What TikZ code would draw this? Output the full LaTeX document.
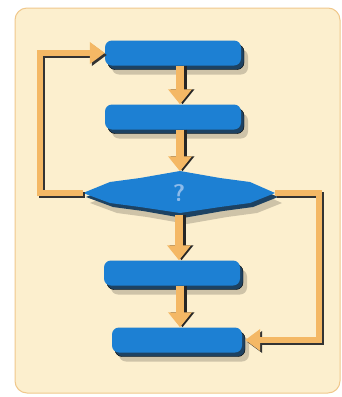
\documentclass[tikz,border=0pt]{standalone}
\usetikzlibrary{arrows.meta,shadows}
\definecolor{cream}{HTML}{FCEFCE}
\definecolor{frameor}{HTML}{F0C88C}
\definecolor{boxblue}{HTML}{1D80D3}
\definecolor{boxdark}{HTML}{1D4262}
\definecolor{arrowor}{HTML}{F4B865}
\definecolor{qblue}{HTML}{8DBBEA}
\tikzset{
  procbox/.style={rectangle, rounded corners=7pt, minimum height=25pt, inner sep=0pt,
    fill=boxblue, draw=none,
    drop shadow={shadow xshift=7pt, shadow yshift=-9pt, fill=black, opacity=0.18},
    copy shadow={shadow xshift=3pt, shadow yshift=-4pt, fill=boxdark}},
  flowarrow/.style={draw=arrowor, line width=8pt,
    -{Triangle[width=23pt,length=15pt]}},
  flowshade/.style={draw=black!85, line width=8pt,
    -{Triangle[width=23pt,length=15pt]}},
  looparrow/.style={draw=arrowor, line width=6.5pt,
    -{Triangle[width=21pt,length=15pt]}},
  loopshade/.style={draw=black!80, line width=6.5pt,
    -{Triangle[width=21pt,length=15pt]}},
  decnode/.style={minimum width=192pt, minimum height=43pt, inner sep=0pt,
    text=qblue, font=\sffamily\bfseries\fontsize{24}{24}\selectfont}
}
\begin{document}
\begin{tikzpicture}[x=1pt,y=-1pt]
\useasboundingbox (0,0) rectangle (342,397);
\fill[white] (0,0) rectangle (342,397);
\draw[fill=cream, draw=frameor, line width=1pt, rounded corners=12pt] (15,8) rectangle (340,393);

% process boxes
\node[procbox, minimum width=136pt] (b1) at (173,53) {};
\node[procbox, minimum width=136pt] (b2) at (173,117) {};
\node[procbox, minimum width=136pt] (b3) at (172,273) {};
\node[procbox, minimum width=130pt] (b4) at (177,340) {};

% decision shape
\fill[black, opacity=0.18] (90,203) -- (117,192) -- (147,188) -- (187,181) -- (227,188) -- (257,192) -- (282,203)
  -- (257,213) -- (227,217) -- (187,224) -- (147,217) -- (117,213) -- cycle;
\fill[boxdark] (86,197) -- (113,186) -- (143,182) -- (183,175) -- (223,182) -- (253,186) -- (278,197)
  -- (253,207) -- (223,211) -- (183,218) -- (143,211) -- (113,207) -- cycle;
\fill[boxblue] (83,193) -- (110,182) -- (140,178) -- (180,171) -- (220,178) -- (250,182) -- (275,193)
  -- (250,203) -- (220,207) -- (180,213) -- (140,207) -- (110,203) -- cycle;
\node[decnode] (dec) at (179,193) {?};

% loop corners
\coordinate (l1) at (40,193);
\coordinate (r1) at (319,193);

% loop arrows (shade then colour)
\draw[loopshade, transform canvas={shift={(2pt,-2pt)}}] (dec.west) -- (l1) |- (b1.west);
\draw[looparrow] (dec.west) -- (l1) |- (b1.west);
\draw[loopshade, transform canvas={shift={(2pt,-2pt)}}] (dec.east) -- (r1) |- ([xshift=3pt]b4.east);
\draw[looparrow] (dec.east) -- (r1) |- ([xshift=3pt]b4.east);

% down arrows
\draw[flowshade, transform canvas={shift={(2.5pt,0pt)}}] ([xshift=7pt]b1.south) -- ([xshift=7pt]b2.north);
\draw[flowarrow] ([xshift=7pt]b1.south) -- ([xshift=7pt]b2.north);
\draw[flowshade, transform canvas={shift={(2.5pt,0pt)}}] ([xshift=7pt]b2.south) -- ([xshift=1pt]dec.north);
\draw[flowarrow] ([xshift=7pt]b2.south) -- ([xshift=1pt]dec.north);
\draw[flowshade, transform canvas={shift={(2.5pt,0pt)}}] ([xshift=0pt]dec.south) -- ([xshift=7pt]b3.north);
\draw[flowarrow] ([xshift=0pt]dec.south) -- ([xshift=7pt]b3.north);
\draw[flowshade, transform canvas={shift={(2.5pt,0pt)}}] ([xshift=8pt]b3.south) -- ([xshift=3pt]b4.north);
\draw[flowarrow] ([xshift=8pt]b3.south) -- ([xshift=3pt]b4.north);
\end{tikzpicture}
\end{document}
